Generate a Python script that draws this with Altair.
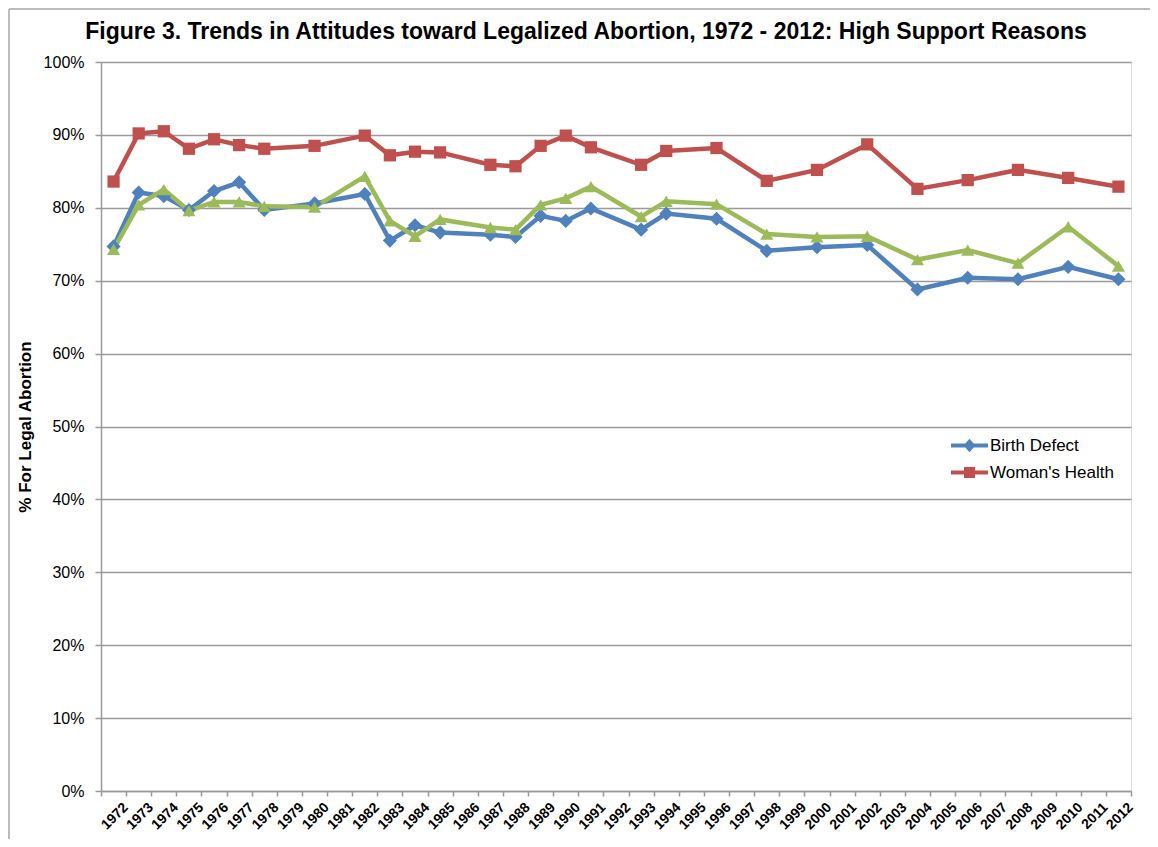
import altair as alt
import pandas as pd

# ---- data ----
years = [1972, 1973, 1974, 1975, 1976, 1977, 1978, 1980, 1982, 1983, 1984, 1985,
         1987, 1988, 1989, 1990, 1991, 1993, 1994, 1996, 1998, 2000, 2002, 2004,
         2006, 2008, 2010, 2012]
birth_defect = [74.7, 82.1, 81.6, 79.7, 82.3, 83.5, 79.7, 80.6, 81.9, 75.5, 77.6, 76.6,
                76.3, 76.0, 78.9, 78.2, 79.9, 77.0, 79.2, 78.5, 74.1, 74.6, 74.9, 68.8,
                70.4, 70.2, 71.9, 70.2]
womans_health = [83.6, 90.2, 90.5, 88.1, 89.4, 88.6, 88.1, 88.5, 89.9, 87.2, 87.7, 87.6,
                 85.9, 85.7, 88.5, 89.9, 88.3, 85.9, 87.8, 88.2, 83.7, 85.2, 88.7, 82.6,
                 83.8, 85.2, 84.1, 82.9]
rape = [74.3, 80.4, 82.5, 79.6, 80.8, 80.8, 80.2, 80.1, 84.3, 78.2, 76.1, 78.4,
        77.3, 77.0, 80.4, 81.3, 82.9, 78.8, 80.9, 80.5, 76.4, 76.0, 76.1, 72.9,
        74.2, 72.4, 77.4, 72.0]

series_names = ["Birth Defect", "Woman's Health", "Rape"]
series_colors = ["#4F81BD", "#C0504D", "#9BBB59"]
axis_years = list(range(1972, 2013))
y_ticks = list(range(0, 101, 10))

title_text = "Figure 3. Trends in Attitudes toward Legalized Abortion, 1972 - 2012: High Support Reasons"
y_title = "% For Legal Abortion"

rows = []
for name, vals in zip(series_names, [birth_defect, womans_health, rape]):
    for yr, v in zip(years, vals):
        rows.append({"year": yr, "value": v, "series": name})
df = pd.DataFrame(rows)

# ---- layout ----
W, H = 1030, 729
FONT = "Liberation Sans"
GRAY = "#9a9a9a"
step = W / len(axis_years)

tick_vals = [y - 0.5 for y in axis_years] + [axis_years[-1] + 0.5]

x_enc = alt.X(
    "year:Q",
    scale=alt.Scale(domain=[axis_years[0] - 0.5, axis_years[-1] + 0.5], nice=False, zero=False),
    axis=alt.Axis(
        values=tick_vals,
        labelExpr="datum.value < 2012 ? '' + (datum.value + 0.5) : ''",
        labelAngle=-45, labelOffset=step / 2 + 7, labelPadding=4,
        labelFlush=False, labelOverlap=False, labelBound=False,
        tickSize=5, tickColor=GRAY, domainColor=GRAY, domainWidth=1.5, tickWidth=1.5,
        grid=False, title=None, labelFontSize=14, labelFontWeight="bold",
        labelColor="#000000", labelFont=FONT,
    ),
)
y_enc = alt.Y(
    "value:Q",
    scale=alt.Scale(domain=[0, 100], nice=False),
    axis=alt.Axis(
        values=y_ticks, labelExpr="datum.value + '%'",
        tickSize=6, tickColor=GRAY, tickWidth=1.5, labelPadding=11,
        domainColor=GRAY, domainWidth=1.5,
        grid=True, gridColor=GRAY, gridWidth=1.5,
        labelFontSize=16, labelColor="#000000", labelFont=FONT,
        title=y_title, titleFontSize=17, titleFontWeight="bold", titleFont=FONT,
        titleColor="#000000", titlePadding=9,
    ),
)
color_scale = alt.Scale(domain=series_names, range=series_colors)

# legend symbols: line with marker (custom paths)
path_bd = "M-1,-0.11 L1,-0.11 L1,0.11 L-1,0.11 Z M0,-0.36 L0.32,0 L0,0.36 L-0.32,0 Z"
path_wh = "M-1,-0.11 L1,-0.11 L1,0.11 L-1,0.11 Z M-0.3,-0.3 L0.3,-0.3 L0.3,0.3 L-0.3,0.3 Z"

LEG_X, LEG_Y, ROW = 850, 365, 27
leg_common = dict(
    title=None, orient="none", legendX=LEG_X, symbolSize=1369, symbolStrokeWidth=0,
    labelFontSize=17, labelFont=FONT, labelColor="#000000", labelOffset=2,
    symbolOpacity=1,
)
leg_bd = alt.Legend(values=["Birth Defect"], legendY=LEG_Y, symbolType=path_bd, **leg_common)
color_enc = alt.Color("series:N", scale=color_scale, legend=leg_bd)

base = alt.Chart(df)

lines = base.mark_line(strokeWidth=4.5).encode(
    x=x_enc, y=y_enc, color=color_enc, order="year:Q",
)

shapes = {"Birth Defect": ("diamond", 200), "Woman's Health": ("square", 150), "Rape": ("triangle-up", 170)}
point_layers = []
for name in series_names:
    shp, sz = shapes[name]
    point_layers.append(
        base.transform_filter(alt.datum.series == name).mark_point(
            shape=shp, size=sz, filled=True, opacity=1
        ).encode(x=x_enc, y=y_enc, color=color_enc)
    )

legend_bd = base.transform_filter("false").mark_point(filled=True).encode(
    x=x_enc, y=y_enc, color=color_enc,
)
legend_wh = base.transform_filter("false").transform_calculate(
    health_series="datum.series"
).mark_point(filled=True).encode(
    x=x_enc, y=y_enc,
    fill=alt.Fill("health_series:N",
                  scale=alt.Scale(domain=["Woman's Health"], range=[series_colors[1]]),
                  legend=alt.Legend(values=["Woman's Health"], legendY=LEG_Y + ROW,
                                    symbolType=path_wh, **leg_common)),
)

one = alt.Data(values=[{}])
border_left = alt.Chart(one).mark_rule(color="#a6a6a6", strokeWidth=1.5).encode(
    x=alt.value(-92), y=alt.value(-53), y2=alt.value(H + 48)
)
border_top = alt.Chart(one).mark_rule(color="#a6a6a6", strokeWidth=1.5).encode(
    x=alt.value(-92), x2=alt.value(W + 19), y=alt.value(-53)
)

chart = alt.layer(
    border_left, border_top, legend_bd, lines, *point_layers, legend_wh
).properties(
    width=W, height=H,
    padding={"left": 93, "top": 54, "right": 19, "bottom": 48},
    autosize=alt.AutoSizeParams(type="none"),
    title=alt.TitleParams(
        title_text, fontSize=23, fontWeight="bold", font=FONT, color="#000000",
        anchor="middle", dx=-30, offset=-36,
    ),
).configure_view(stroke=None).configure(font=FONT)

chart.save("out.html", embed_options={"renderer": "svg", "actions": False})
